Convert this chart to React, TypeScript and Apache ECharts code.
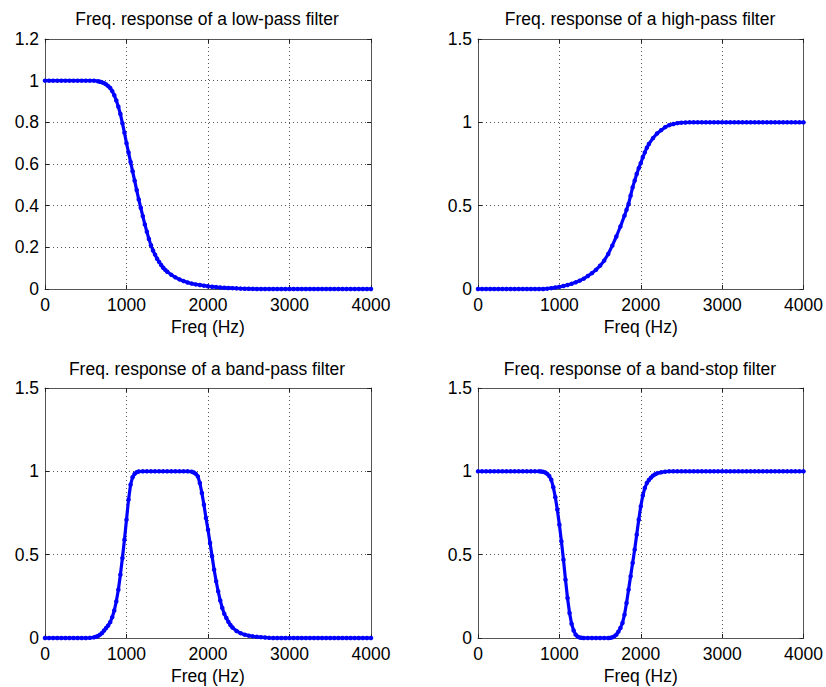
import React, { useEffect, useRef } from "react";
import * as echarts from "echarts";

// ---------- data ----------
const titles = [
  "Freq. response of a low-pass filter",
  "Freq. response of a high-pass filter",
  "Freq. response of a band-pass filter",
  "Freq. response of a band-stop filter",
];
const xLabel = "Freq (Hz)";
const xMax = 4000;
const xStep = 1000;
const yMaxes = [1.2, 1.5, 1.5, 1.5];
const ySteps = [0.2, 0.5, 0.5, 0.5];

const lowPassFreq = [
  0, 50, 100, 150, 200, 250, 300, 350, 400, 450, 500, 550, 600, 650, 675, 700, 725, 750, 775, 800,
  825, 850, 875, 900, 925, 950, 975, 1000, 1025, 1050, 1075, 1100, 1125, 1150, 1175, 1200, 1225,
  1250, 1275, 1300, 1325, 1350, 1375, 1400, 1425, 1450, 1475, 1500, 1550, 1600, 1650, 1700, 1750,
  1800, 1850, 1900, 1950, 2000, 2050, 2100, 2150, 2200, 2250, 2300, 2350, 2400, 2450, 2500, 2550,
  2600, 2650, 2700, 2750, 2800, 2850, 2900, 2950, 3000, 3050, 3100, 3150, 3200, 3250, 3300, 3350,
  3400, 3450, 3500, 3550, 3600, 3650, 3700, 3750, 3800, 3850, 3900, 3950, 4000,
];
const lowPassMag = [
  1, 1, 1, 1, 1, 1, 1, 1, 1, 1, 1, 1, 1, 0.997, 0.995, 0.992, 0.988, 0.982, 0.974, 0.965,
  0.95, 0.93, 0.905, 0.875, 0.84, 0.795, 0.75, 0.7, 0.655, 0.61, 0.565, 0.52, 0.475, 0.43, 0.39, 0.35, 0.31,
  0.275, 0.24, 0.21, 0.185, 0.165, 0.145, 0.13, 0.115, 0.102, 0.092, 0.083, 0.068, 0.056, 0.046, 0.038, 0.031,
  0.026, 0.022, 0.019, 0.016, 0.013, 0.011, 0.009, 0.007, 0.006, 0.005, 0.004, 0.003, 0.002, 0.0015, 0.001, 0.0005,
  0, 0, 0, 0, 0, 0, 0, 0, 0, 0, 0, 0, 0, 0, 0, 0,
  0, 0, 0, 0, 0, 0, 0, 0, 0, 0, 0, 0, 0,
];

const highPassFreq = [
  0, 50, 100, 150, 200, 250, 300, 350, 400, 450, 500, 550, 600, 650, 700, 750, 800, 850, 900, 950,
  1000, 1050, 1100, 1150, 1200, 1250, 1300, 1350, 1400, 1450, 1500, 1550, 1600, 1650, 1700, 1750,
  1800, 1825, 1850, 1875, 1900, 1925, 1950, 1975, 2000, 2025, 2050, 2075, 2100, 2150, 2200, 2250,
  2300, 2350, 2400, 2450, 2500, 2550, 2600, 2650, 2700, 2750, 2800, 2850, 2900, 2950, 3000, 3050,
  3100, 3150, 3200, 3250, 3300, 3350, 3400, 3450, 3500, 3550, 3600, 3650, 3700, 3750, 3800, 3850,
  3900, 3950, 4000,
];
const highPassMag = [
  0, 0, 0, 0, 0, 0, 0, 0, 0, 0, 0, 0, 0, 0, 0, 0, 0, 0.002, 0.005, 0.009,
  0.013, 0.018, 0.024, 0.031, 0.04, 0.05, 0.062, 0.078, 0.095, 0.115, 0.14, 0.17, 0.21, 0.26, 0.315, 0.375,
  0.44, 0.475, 0.51, 0.56, 0.61, 0.65, 0.69, 0.725, 0.755, 0.79, 0.82, 0.848, 0.87, 0.905, 0.933, 0.953,
  0.971, 0.983, 0.99, 0.995, 0.998, 0.999, 1, 1, 1, 1, 1, 1, 1, 1, 1, 1,
  1, 1, 1, 1, 1, 1, 1, 1, 1, 1, 1, 1, 1, 1, 1, 1,
  1, 1, 1,
];

const bandPassFreq = [
  0, 50, 100, 150, 200, 250, 300, 350, 400, 450, 500, 550, 600, 625, 650, 675, 700, 725, 750, 775,
  800, 825, 850, 875, 900, 925, 950, 975, 1000, 1025, 1050, 1075, 1100, 1125, 1150, 1200, 1250, 1300,
  1350, 1400, 1450, 1500, 1550, 1600, 1650, 1700, 1750, 1800, 1825, 1850, 1875, 1900, 1925, 1950,
  1975, 2000, 2025, 2050, 2075, 2100, 2125, 2150, 2175, 2200, 2225, 2250, 2275, 2300, 2350, 2400,
  2450, 2500, 2550, 2600, 2650, 2700, 2750, 2800, 2850, 2900, 2950, 3000, 3050, 3100, 3150, 3200,
  3250, 3300, 3350, 3400, 3450, 3500, 3550, 3600, 3650, 3700, 3750, 3800, 3850, 3900, 3950, 4000,
];
const bandPassMag = [
  0, 0, 0, 0, 0, 0, 0, 0, 0, 0, 0, 0.001, 0.004, 0.007, 0.012, 0.02, 0.03, 0.045, 0.06, 0.075,
  0.095, 0.125, 0.165, 0.22, 0.29, 0.38, 0.48, 0.59, 0.71, 0.83, 0.92, 0.965, 0.985, 0.995, 0.999, 1, 1, 1,
  1, 1, 1, 1, 1, 1, 1, 1, 1, 0.998, 0.993, 0.985, 0.97, 0.93, 0.87, 0.8,
  0.72, 0.65, 0.57, 0.49, 0.41, 0.34, 0.28, 0.225, 0.18, 0.145, 0.12, 0.097, 0.078, 0.063, 0.042, 0.029,
  0.02, 0.014, 0.01, 0.007, 0.005, 0.003, 0.001, 0, 0, 0, 0, 0, 0, 0, 0, 0,
  0, 0, 0, 0, 0, 0, 0, 0, 0, 0, 0, 0, 0, 0, 0, 0,
];

const bandStopFreq = [
  0, 50, 100, 150, 200, 250, 300, 350, 400, 450, 500, 550, 600, 650, 700, 750, 775, 800, 825, 850,
  875, 900, 925, 950, 975, 1000, 1025, 1050, 1075, 1100, 1125, 1150, 1175, 1200, 1225, 1250, 1275,
  1300, 1350, 1400, 1450, 1500, 1550, 1600, 1625, 1650, 1675, 1700, 1725, 1750, 1775, 1800, 1825,
  1850, 1875, 1900, 1925, 1950, 1975, 2000, 2025, 2050, 2075, 2100, 2125, 2150, 2175, 2200, 2250,
  2300, 2350, 2400, 2450, 2500, 2550, 2600, 2650, 2700, 2750, 2800, 2850, 2900, 2950, 3000, 3050,
  3100, 3150, 3200, 3250, 3300, 3350, 3400, 3450, 3500, 3550, 3600, 3650, 3700, 3750, 3800, 3850,
  3900, 3950, 4000,
];
const bandStopMag = [
  1, 1, 1, 1, 1, 1, 1, 1, 1, 1, 1, 1, 1, 1, 1, 1, 0.999, 0.997, 0.993, 0.985,
  0.972, 0.95, 0.905, 0.845, 0.77, 0.68, 0.58, 0.47, 0.35, 0.24, 0.15, 0.085, 0.045, 0.02, 0.008, 0.003, 0.001,
  0, 0, 0, 0, 0, 0, 0, 0.001, 0.004, 0.01, 0.02, 0.038, 0.06, 0.09, 0.14, 0.21,
  0.29, 0.37, 0.45, 0.53, 0.62, 0.71, 0.79, 0.855, 0.9, 0.93, 0.948, 0.962, 0.974, 0.982, 0.988, 0.994,
  0.998, 1, 1, 1, 1, 1, 1, 1, 1, 1, 1, 1, 1, 1, 1, 1,
  1, 1, 1, 1, 1, 1, 1, 1, 1, 1, 1, 1, 1, 1, 1, 1,
  1, 1, 1,
];

const seriesFreqs = [lowPassFreq, highPassFreq, bandPassFreq, bandStopFreq];
const seriesMags = [lowPassMag, highPassMag, bandPassMag, bandStopMag];

// ---------- layout ----------
const FONT = '"Liberation Sans", Arial, Helvetica, sans-serif';
const FS = 17.5;
const grids = [
  { left: 45, top: 39, width: 326, height: 250 },
  { left: 478, top: 39, width: 326, height: 250 },
  { left: 45, top: 388, width: 326, height: 250 },
  { left: 478, top: 388, width: 326, height: 250 },
];
const titlePos = [
  { x: 207, y: 19 },
  { x: 640, y: 19 },
  { x: 207, y: 369 },
  { x: 640, y: 369 },
];

const AXIS_COLOR = "#555";
const GRID_COLOR = "#555";
const LINE_COLOR = "#0000ff";

function buildOption() {
  const xAxis: any[] = [];
  const yAxis: any[] = [];
  const series: any[] = [];
  grids.forEach((_, i) => {
    const common = {
      gridIndex: i,
      type: "value",
      axisLine: { show: true, onZero: false, lineStyle: { color: AXIS_COLOR, width: 1 } },
      axisTick: { show: true, inside: true, length: 4, lineStyle: { color: "#222" } },
    };
    xAxis.push({
      ...common,
      position: "bottom",
      min: 0,
      max: xMax,
      interval: xStep,
      axisLabel: {
        show: true,
        fontSize: FS,
        color: "#000",
        margin: 7,
        fontFamily: FONT,
        formatter: (v: number) => String(v),
      },
      splitLine: { show: true, lineStyle: { color: GRID_COLOR, width: 1, type: [1, 3] } },
      name: xLabel,
      nameLocation: "middle",
      nameGap: 29,
      nameTextStyle: { fontSize: FS, color: "#000", fontFamily: FONT },
    });
    xAxis.push({
      ...common,
      position: "top",
      min: 0,
      max: xMax,
      interval: xStep,
      axisLabel: { show: false },
      splitLine: { show: false },
    });
    yAxis.push({
      ...common,
      position: "left",
      min: 0,
      max: yMaxes[i],
      interval: ySteps[i],
      axisLabel: {
        show: true,
        fontSize: FS,
        color: "#000",
        margin: 6,
        fontFamily: FONT,
        formatter: (v: number) => String(Math.round(v * 10) / 10),
      },
      splitLine: { show: true, lineStyle: { color: GRID_COLOR, width: 1, type: [1, 3] } },
    });
    yAxis.push({
      ...common,
      position: "right",
      min: 0,
      max: yMaxes[i],
      interval: ySteps[i],
      axisLabel: { show: false },
      splitLine: { show: false },
    });
    const freqs = seriesFreqs[i];
    const mags = seriesMags[i];
    series.push({
      type: "line",
      name: titles[i],
      xAxisIndex: 2 * i,
      yAxisIndex: 2 * i,
      data: freqs.map((f, k) => [f, mags[k]]),
      symbol: "circle",
      symbolSize: 4.5,
      showSymbol: true,
      showAllSymbol: true,
      clip: false,
      itemStyle: { color: LINE_COLOR, borderWidth: 0 },
      lineStyle: { color: LINE_COLOR, width: 3.2 },
      emphasis: { disabled: true },
    });
  });

  const graphic = titles.map((t, i) => ({
    type: "text",
    x: titlePos[i].x,
    y: titlePos[i].y,
    style: {
      text: t,
      fill: "#000",
      font: `${FS}px ${FONT}`,
      textAlign: "center",
      textVerticalAlign: "middle",
      align: "center",
      verticalAlign: "middle",
    },
  }));

  return {
    animation: false,
    backgroundColor: "#ffffff",
    grid: grids.map((g) => ({ ...g, containLabel: false })),
    xAxis,
    yAxis,
    series,
    graphic,
  };
}

export default function App() {
  const ref = useRef<HTMLDivElement>(null);
  useEffect(() => {
    if (!ref.current) return;
    const chart = echarts.init(ref.current, null, { renderer: "svg" });
    chart.setOption(buildOption() as any);
    return () => chart.dispose();
  }, []);
  return (
    <div
      ref={ref}
      style={{ position: "absolute", left: 0, top: 0, width: 826, height: 687, background: "#fff" }}
    />
  );
}
